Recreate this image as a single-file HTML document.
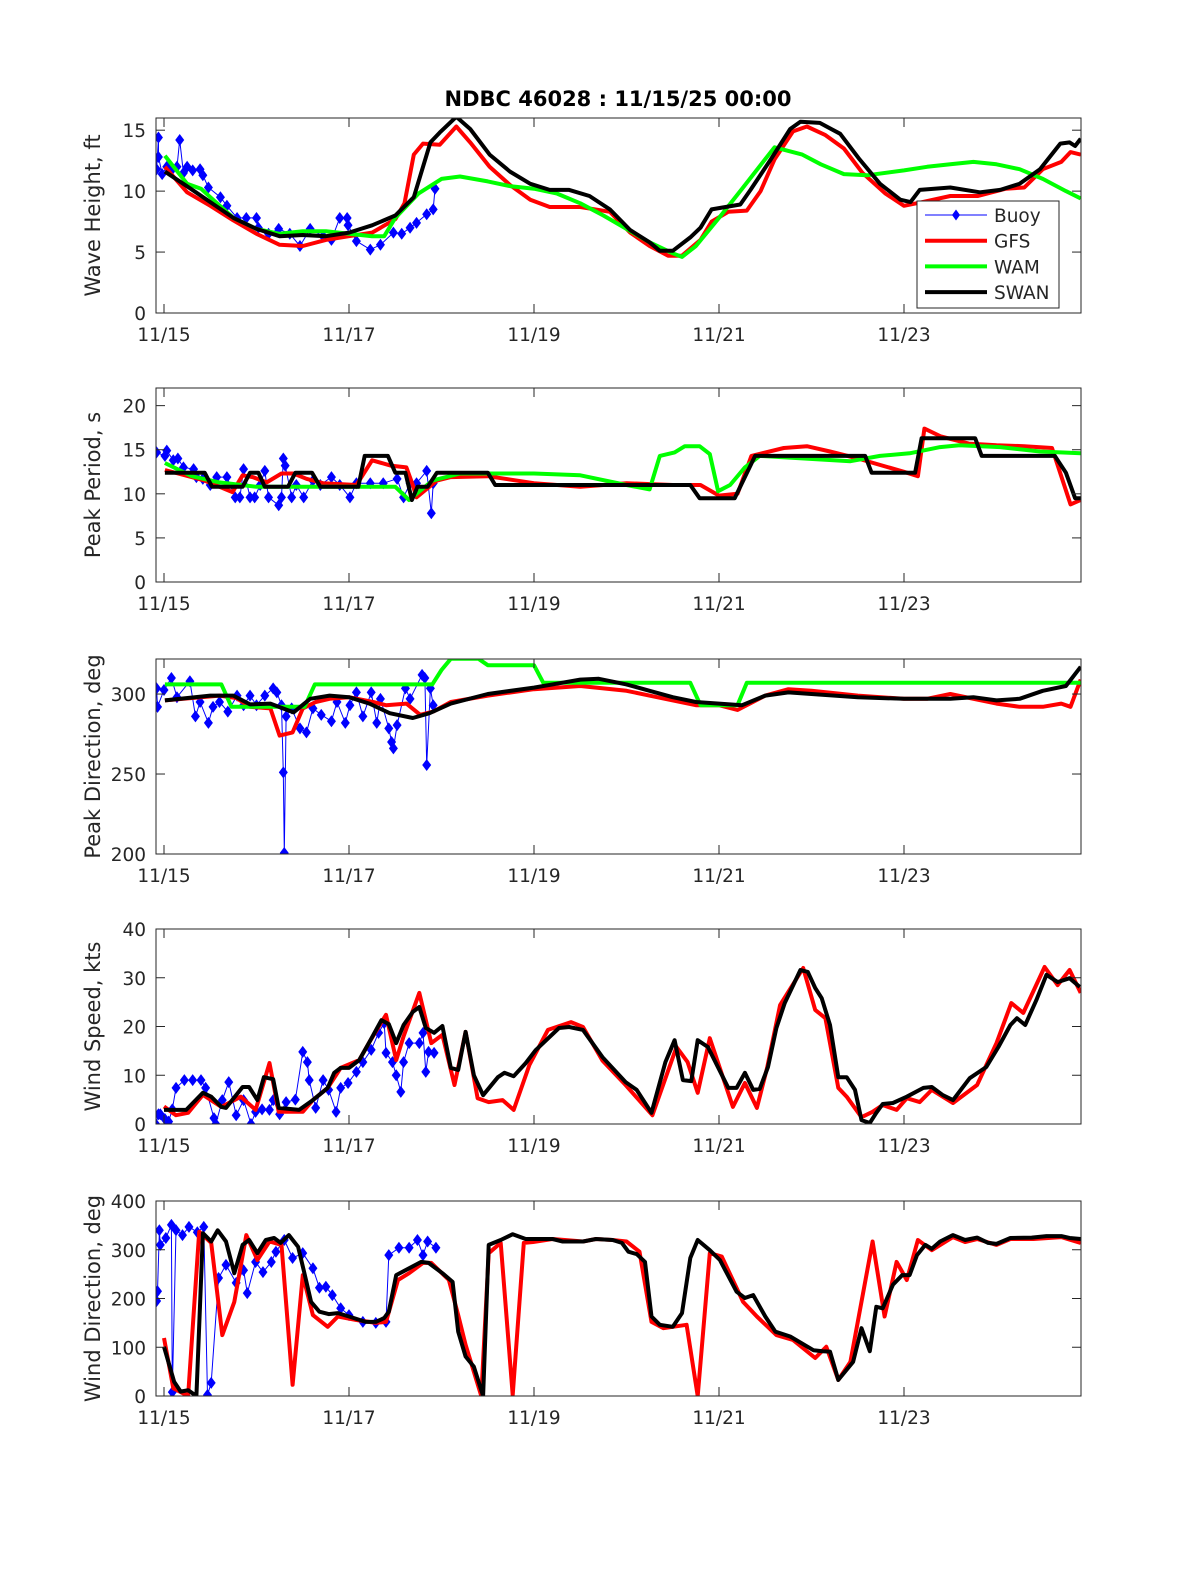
<!DOCTYPE html>
<html><head><meta charset="utf-8"><style>
body{margin:0;background:#fff;}
svg text{font-family:"DejaVu Sans","Liberation Sans",sans-serif;fill:#262626;}
</style></head><body>
<svg id="fig" width="1200" height="1575" viewBox="0 0 1200 1575" xmlns="http://www.w3.org/2000/svg">
<rect width="1200" height="1575" fill="#fff"/>
<text x="618" y="106" text-anchor="middle" font-size="21" font-weight="bold" style="fill:#000">NDBC 46028 : 11/15/25 00:00</text>
</svg>
<script>
// ---- data (time in days since 11/15 00:00) ----
const xTickLabels = ["11/15","11/17","11/19","11/21","11/23"];
const xTickDays = [0,2,4,6,8];

const hsBuoy = [[-0.08,11.8],[-0.06,14.4],[-0.06,12.8],[-0.02,11.4],[0.03,12],[0.09,11.8],[0.14,12],[0.17,14.2],[0.21,11.5],[0.25,12],[0.31,11.7],[0.39,11.8],[0.42,11.3],[0.48,10.3],[0.61,9.5],[0.68,8.8],[0.79,7.8],[0.89,7.8],[1.0,7.8],[1.02,7],[1.13,6.5],[1.24,6.9],[1.36,6.5],[1.47,5.5],[1.58,6.9],[1.72,6.3],[1.81,6],[1.9,7.8],[1.98,7.8],[1.99,7.2],[2.08,5.9],[2.23,5.2],[2.34,5.6],[2.48,6.6],[2.57,6.5],[2.66,7],[2.73,7.4],[2.84,8.1],[2.91,8.5],[2.93,10.2]];
const hsGfs = [[0.01,12],[0.25,9.9],[0.5,8.8],[0.75,7.6],[1,6.5],[1.25,5.6],[1.5,5.5],[1.75,6],[2,6.3],[2.25,6.6],[2.5,7.7],[2.6,9],[2.7,13],[2.8,13.9],[2.98,13.8],[3.16,15.3],[3.31,14],[3.52,12],[3.74,10.5],[3.96,9.3],[4.17,8.7],[4.5,8.7],[4.82,8.3],[5.04,6.6],[5.25,5.5],[5.45,4.7],[5.6,4.7],[5.8,6],[5.92,7.5],[6.1,8.3],[6.3,8.4],[6.45,10],[6.6,12.6],[6.8,14.9],[6.95,15.3],[7.15,14.6],[7.35,13.5],[7.55,11.5],[7.8,9.8],[8,8.8],[8.2,9.1],[8.5,9.6],[8.8,9.6],[9.1,10.2],[9.3,10.3],[9.5,11.8],[9.7,12.4],[9.8,13.2],[9.91,13]];
const hsWam = [[0.01,12.9],[0.25,10.6],[0.4,10.2],[0.5,9.5],[0.75,7.8],[1,6.9],[1.25,6.5],[1.5,6.7],[1.75,6.7],[2,6.5],[2.25,6.3],[2.38,6.3],[2.5,7.8],[2.75,9.8],[3,11],[3.2,11.2],[3.5,10.8],[3.75,10.4],[4,10.2],[4.25,9.8],[4.5,9],[4.75,8],[5,6.9],[5.25,5.8],[5.5,4.9],[5.6,4.6],[5.75,5.5],[6,7.8],[6.25,10.2],[6.6,13.6],[6.9,13],[7.1,12.2],[7.35,11.4],[7.6,11.3],[8,11.7],[8.25,12],[8.5,12.2],[8.75,12.4],[9,12.2],[9.25,11.8],[9.5,11],[9.75,10],[9.91,9.4]];
const hsSwan = [[0.01,11.6],[0.25,10.4],[0.5,9.1],[0.75,7.8],[1,6.9],[1.25,6.3],[1.5,6.4],[1.75,6.3],[2,6.6],[2.25,7.2],[2.5,8],[2.7,9.5],[2.88,14],[2.98,14.8],[3.16,16.1],[3.31,15.1],[3.52,13],[3.74,11.6],[3.96,10.6],[4.17,10.1],[4.38,10.1],[4.6,9.6],[4.82,8.5],[5.04,6.8],[5.25,5.8],[5.36,5.1],[5.5,5.1],[5.69,6.2],[5.8,7],[5.92,8.5],[6.23,8.9],[6.34,10.1],[6.56,12.6],[6.77,15.1],[6.88,15.7],[7.09,15.6],[7.31,14.7],[7.52,12.6],[7.74,10.6],[7.96,9.3],[8.07,9.1],[8.17,10.1],[8.5,10.3],[8.82,9.9],[9.04,10.1],[9.25,10.6],[9.47,11.8],[9.69,13.9],[9.79,14],[9.85,13.7],[9.91,14.3]];

const tpBuoy = [[-0.08,14.7],[0.01,14.3],[0.03,14.9],[0.1,13.8],[0.15,14],[0.21,13],[0.32,12.8],[0.35,11.9],[0.42,11.7],[0.5,11],[0.57,11.9],[0.68,11.9],[0.77,9.6],[0.82,9.6],[0.86,12.8],[0.93,9.6],[0.98,9.6],[1.04,11],[1.09,12.6],[1.13,9.6],[1.24,8.7],[1.27,9.6],[1.29,14],[1.31,13.2],[1.38,9.6],[1.43,11],[1.51,9.6],[1.61,11.5],[1.69,11],[1.81,11.9],[1.9,11],[2.01,9.6],[2.08,11.2],[2.23,11.2],[2.37,11.2],[2.52,11.7],[2.59,9.6],[2.66,11.2],[2.73,11.2],[2.84,12.6],[2.89,7.8],[2.91,11.2]];
const tpGfs = [[0.01,12.7],[0.44,11.5],[0.74,10.2],[0.85,12.1],[0.96,11.9],[1.11,11.3],[1.27,12.3],[1.4,12.3],[1.54,11.7],[1.72,11.2],[2.08,11],[2.25,13.8],[2.45,13.2],[2.62,13],[2.69,11],[2.73,9.6],[2.95,11.5],[3.1,11.9],[3.5,12],[4,11.2],[4.5,10.8],[5,11.2],[5.5,11],[5.8,11],[6.0,9.8],[6.2,10],[6.35,14.3],[6.7,15.2],[6.95,15.4],[7.2,14.8],[7.5,14],[8.0,12.5],[8.15,12],[8.22,17.4],[8.4,16.5],[8.7,15.7],[9,15.5],[9.3,15.4],[9.6,15.2],[9.8,8.8],[9.91,9.3]];
const tpWam = [[0.01,13.5],[0.3,12],[0.6,11.3],[1.0,10.8],[1.5,10.8],[2.5,10.8],[2.65,9.3],[2.9,11.5],[3.2,12.3],[4,12.3],[4.5,12.1],[5.0,11],[5.25,10.5],[5.36,14.3],[5.52,14.7],[5.63,15.4],[5.79,15.4],[5.9,14.5],[5.99,10.3],[6.12,11],[6.28,13],[6.44,14.3],[7.42,13.7],[7.74,14.3],[8.06,14.6],[8.39,15.3],[8.6,15.5],[9.04,15.3],[9.47,14.8],[9.91,14.6]];
const tpSwan = [[0.01,12.4],[0.44,12.4],[0.52,10.8],[0.85,10.8],[0.93,12.4],[1.02,12.4],[1.09,10.8],[1.34,10.8],[1.42,12.4],[1.6,12.4],[1.69,10.8],[2.1,10.8],[2.17,14.3],[2.42,14.3],[2.5,12.4],[2.61,12.4],[2.68,9.3],[2.74,10.8],[2.85,10.8],[2.95,12.4],[3.5,12.4],[3.58,11],[5.69,11],[5.79,9.5],[6.17,9.5],[6.39,14.3],[7.58,14.3],[7.65,12.4],[8.12,12.4],[8.19,16.3],[8.77,16.3],[8.84,14.3],[9.63,14.3],[9.75,12.4],[9.85,9.5],[9.91,9.5]];

const dpBuoy = [[-0.08,303.5],[-0.07,292],[0,302.5],[0.08,310],[0.14,298],[0.28,308],[0.34,286],[0.39,295],[0.48,282],[0.53,292],[0.6,295],[0.69,289],[0.79,299],[0.86,293],[0.93,299],[1.0,293],[1.09,299],[1.18,303.5],[1.22,301],[1.27,293],[1.29,251],[1.3,200.6],[1.32,286],[1.38,291],[1.47,278.5],[1.54,276],[1.61,291],[1.7,287],[1.81,283],[1.87,295],[1.96,282],[2.01,293],[2.08,301],[2.15,286],[2.24,301],[2.3,282],[2.34,297],[2.43,278.5],[2.46,270],[2.48,266],[2.52,280.6],[2.61,303.5],[2.66,297],[2.79,312],[2.82,310],[2.84,255.6],[2.88,303.5],[2.91,293]];
const dpGfs = [[0.01,296],[0.6,299],[0.78,297.5],[0.93,292],[1.15,291],[1.25,274],[1.39,276],[1.5,291],[1.64,295],[1.79,297],[2.0,298],[2.26,295],[2.4,293],[2.62,294],[2.77,287],[2.91,289],[3.1,295],[3.5,299],[4,303],[4.5,305],[5,302],[5.5,296],[5.75,293],[6,293],[6.2,290],[6.5,299],[6.75,303],[7,302],[7.5,299],[8,297],[8.25,297],[8.5,300],[9,294],[9.25,292],[9.5,292],[9.7,294],[9.8,292],[9.91,309]];
const dpWam = [[0.01,306],[0.62,306],[0.73,292],[1.52,292],[1.63,306],[2.9,306],[3.0,315],[3.1,322],[3.4,322],[3.5,318],[4,318],[4.1,307],[5.69,307],[5.8,293],[6.2,293],[6.3,307],[9.91,307]];
const dpSwan = [[0.01,296],[0.5,299],[0.75,299],[0.93,293.5],[1.15,294],[1.4,288.5],[1.58,297],[1.79,299],[2.0,298],[2.22,294],[2.44,288],[2.69,285],[2.87,288],[3.1,294],[3.5,300],[4,304],[4.3,307],[4.5,309],[4.7,309.5],[5,306],[5.25,302],[5.5,298],[5.75,295],[6,294],[6.25,293],[6.5,299],[6.75,301],[7,300],[7.5,298],[8,297],[8.5,297],[8.75,298],[9,296],[9.25,297],[9.5,302],[9.75,305],[9.91,317]];

const wsBuoy = [[-0.09,0],[-0.06,2],[-0.04,2],[0.01,1],[0.05,0.5],[0.09,3],[0.13,7.4],[0.22,9],[0.31,9],[0.4,9],[0.45,7.4],[0.54,1.2],[0.56,0],[0.63,4.9],[0.7,8.6],[0.78,1.8],[0.86,4.9],[0.94,0],[0.99,2.5],[1.06,3],[1.14,2.9],[1.18,4.9],[1.25,2],[1.32,4.5],[1.42,5],[1.5,14.8],[1.55,12.7],[1.57,9],[1.64,3.3],[1.72,9],[1.78,7],[1.86,2.5],[1.91,7.4],[1.99,8.4],[2.08,10.7],[2.15,12.7],[2.24,15.2],[2.32,18.7],[2.38,20.7],[2.4,14.6],[2.47,12.7],[2.51,10],[2.56,6.6],[2.59,12.7],[2.65,16.6],[2.76,16.6],[2.8,18.7],[2.83,10.7],[2.86,14.8],[2.92,14.6]];
const wsGfs = [[0,3.6],[0.13,1.8],[0.26,2.3],[0.42,6],[0.62,3.5],[0.83,5.6],[0.99,2.9],[1.14,12.5],[1.24,2.5],[1.5,2.5],[1.61,4.9],[1.77,7.4],[1.91,11.5],[2.11,13.1],[2.22,16.8],[2.4,22.4],[2.51,13.1],[2.59,18],[2.76,26.9],[2.89,16.6],[3.01,18.3],[3.14,8],[3.26,18.9],[3.39,5.3],[3.51,4.5],[3.66,4.9],[3.78,2.9],[3.95,12.1],[4.15,19.3],[4.4,20.9],[4.53,19.9],[4.74,13],[4.99,8],[5.28,1.8],[5.54,15.8],[5.66,12.7],[5.77,6.4],[5.9,17.6],[6.15,3.5],[6.28,8.4],[6.41,3.3],[6.52,11.5],[6.66,24.4],[6.91,32],[7.04,23.4],[7.15,21.7],[7.29,7.4],[7.38,5.6],[7.54,1.4],[7.66,2.5],[7.77,3.9],[7.92,2.9],[8.03,5.3],[8.17,4.5],[8.3,7],[8.53,4.3],[8.79,8],[9.0,16.6],[9.16,24.8],[9.29,22.8],[9.52,32.2],[9.66,28.5],[9.79,31.6],[9.91,26.9]];
const wsSwan = [[0,2.9],[0.24,2.9],[0.42,6.4],[0.51,5.6],[0.62,3.5],[0.67,3.3],[0.85,7.6],[0.92,7.6],[1.01,4.9],[1.08,9.6],[1.18,9.2],[1.24,3.3],[1.46,2.9],[1.61,4.9],[1.77,7.4],[1.84,10.5],[1.91,11.5],[2.0,11.5],[2.11,13.1],[2.22,16.8],[2.35,21.3],[2.43,20.5],[2.51,16.6],[2.59,20.3],[2.69,23],[2.76,24],[2.83,19.7],[2.92,18.7],[3.01,20.1],[3.1,11.5],[3.18,11.1],[3.26,18.9],[3.35,10],[3.45,5.9],[3.61,9.6],[3.68,10.5],[3.78,9.8],[3.91,12.5],[4.02,15.2],[4.27,19.7],[4.38,19.9],[4.53,19.3],[4.74,13.7],[4.99,8.6],[5.11,7],[5.27,2.3],[5.42,12.7],[5.52,17.2],[5.61,9],[5.7,8.8],[5.77,17.2],[5.88,15.8],[6.1,7.4],[6.19,7.4],[6.28,10.5],[6.37,7],[6.44,7.2],[6.53,11.7],[6.62,19.7],[6.71,24.8],[6.88,31.6],[6.96,31.2],[7.04,27.9],[7.11,25.8],[7.2,20.3],[7.29,9.6],[7.38,9.6],[7.47,7],[7.54,0.8],[7.63,0.2],[7.7,2.3],[7.77,4.1],[7.88,4.3],[8.03,5.6],[8.21,7.4],[8.3,7.6],[8.42,5.9],[8.53,4.9],[8.71,9.4],[8.89,11.7],[9.02,15.8],[9.15,20.3],[9.22,21.7],[9.31,20.3],[9.43,25.4],[9.54,30.6],[9.66,29.1],[9.79,29.9],[9.9,28.1]];

const wdBuoy = [[-0.08,195],[-0.07,215],[-0.05,340],[-0.04,310],[0.02,324],[0.08,351],[0.09,8],[0.13,340],[0.2,330],[0.27,347],[0.36,336],[0.43,347],[0.47,2],[0.51,27],[0.59,242],[0.67,269],[0.78,232],[0.86,258],[0.9,211],[0.99,275],[1.07,254],[1.16,275],[1.21,296],[1.3,320],[1.39,283],[1.5,293],[1.61,262],[1.68,222],[1.75,224],[1.82,207],[1.91,180],[2.0,166],[2.15,152],[2.29,150],[2.4,152],[2.43,289],[2.54,304],[2.65,304],[2.74,320],[2.8,289],[2.85,317],[2.94,304]];
const wdGfs = [[0,119],[0.1,16],[0.26,0],[0.38,337],[0.51,314],[0.63,125],[0.76,193],[0.89,330],[1.01,279],[1.14,317],[1.27,310],[1.39,23],[1.5,248],[1.61,166],[1.77,142],[1.88,163],[2.08,156],[2.29,150],[2.4,152],[2.53,238],[2.65,252],[2.8,273],[2.89,273],[3.08,238],[3.18,166],[3.26,105],[3.43,0],[3.51,293],[3.64,314],[3.77,2],[3.89,314],[3.99,316],[4.2,322],[4.53,317],[4.67,322],[4.85,320],[5.0,317],[5.14,296],[5.27,152],[5.4,139],[5.65,146],[5.77,0],[5.9,293],[6.03,286],[6.26,193],[6.41,163],[6.62,125],[6.8,115],[7.04,78],[7.16,101],[7.29,33],[7.42,70],[7.66,317],[7.79,163],[7.92,275],[8.03,238],[8.15,320],[8.3,299],[8.53,326],[8.66,316],[8.79,322],[9.0,310],[9.15,322],[9.4,322],[9.7,326],[9.91,314]];
const wdSwan = [[0,101],[0.11,29],[0.18,9],[0.26,12],[0.35,0],[0.42,334],[0.51,317],[0.58,340],[0.67,317],[0.76,252],[0.85,310],[0.92,320],[1.01,293],[1.1,320],[1.19,324],[1.26,314],[1.35,330],[1.45,306],[1.51,258],[1.59,193],[1.68,173],[1.78,168],[1.88,170],[2.0,163],[2.18,152],[2.29,152],[2.38,160],[2.43,173],[2.51,248],[2.65,262],[2.78,275],[2.86,273],[3.01,252],[3.12,234],[3.18,132],[3.26,81],[3.35,60],[3.45,0],[3.51,310],[3.64,320],[3.77,332],[3.91,322],[4.2,322],[4.31,317],[4.53,317],[4.67,322],[4.85,320],[4.95,314],[5.02,296],[5.11,291],[5.2,275],[5.27,163],[5.36,146],[5.5,142],[5.6,170],[5.69,283],[5.77,320],[5.9,299],[6.01,279],[6.19,214],[6.28,201],[6.37,207],[6.5,163],[6.61,132],[6.77,122],[7.02,94],[7.12,92],[7.2,91],[7.29,33],[7.45,70],[7.54,139],[7.63,92],[7.7,183],[7.77,180],[7.88,228],[7.98,248],[8.06,248],[8.14,289],[8.23,310],[8.3,302],[8.39,317],[8.53,330],[8.66,320],[8.79,325],[8.91,314],[9.0,312],[9.15,324],[9.38,325],[9.54,328],[9.7,328],[9.79,324],[9.91,322]];

// ---- drawing ----
const NS = "http://www.w3.org/2000/svg";
const svg = document.getElementById('fig');
const X0 = 156, X1 = 1081, DMIN = -0.0865, DMAX = 9.9135;
function xs(d){ return X0 + (d - DMIN) / (DMAX - DMIN) * (X1 - X0); }
function mk(tag, attrs, parent){ const e = document.createElementNS(NS, tag); for (const k in attrs) e.setAttribute(k, attrs[k]); (parent||svg).appendChild(e); return e; }

const panels = [
  {key:'wave-height', top:118, bot:313, ymin:0, ymax:16, ticks:[0,5,10,15], title:'Wave Height, ft', series:[[hsBuoy,'buoy'],[hsGfs,'gfs'],[hsWam,'wam'],[hsSwan,'swan']]},
  {key:'peak-period', top:388, bot:582, ymin:0, ymax:22, ticks:[0,5,10,15,20], title:'Peak Period, s', series:[[tpBuoy,'buoy'],[tpGfs,'gfs'],[tpWam,'wam'],[tpSwan,'swan']]},
  {key:'peak-direction', top:659, bot:854, ymin:200, ymax:321.9, ticks:[200,250,300], title:'Peak Direction, deg', series:[[dpBuoy,'buoy'],[dpGfs,'gfs'],[dpWam,'wam'],[dpSwan,'swan']]},
  {key:'wind-speed', top:929, bot:1124, ymin:0, ymax:40, ticks:[0,10,20,30,40], title:'Wind Speed, kts', series:[[wsBuoy,'buoy'],[wsGfs,'gfs'],[wsSwan,'swan']]},
  {key:'wind-direction', top:1201, bot:1396, ymin:0, ymax:400, ticks:[0,100,200,300,400], title:'Wind Direction, deg', series:[[wdBuoy,'buoy'],[wdGfs,'gfs'],[wdSwan,'swan']]}
];
const styles = {buoy:{c:'#0000ff',w:1}, gfs:{c:'#ff0000',w:4}, wam:{c:'#00ff00',w:4}, swan:{c:'#000000',w:4}};

panels.forEach((p, pi) => {
  const ys = v => p.bot - (v - p.ymin) / (p.ymax - p.ymin) * (p.bot - p.top);
  const g = mk('g', {});
  
  
  const cid = 'clip' + pi;
  const cp = mk('clipPath', {id: cid}, g);
  mk('rect', {x: X0, y: p.top, width: X1 - X0, height: p.bot - p.top}, cp);
  const data = mk('g', {'clip-path': 'url(#' + cid + ')'}, g);
  p.series.forEach(([arr, name]) => {
    const st = styles[name];
    const pts = arr.map(q => xs(q[0]).toFixed(1) + ',' + ys(q[1]).toFixed(1)).join(' ');
    const pl = mk('polyline', {points: pts, fill: 'none', stroke: st.c, 'stroke-width': st.w, 'stroke-linejoin': 'round'}, data);
    
    
    if (name === 'buoy') {
      arr.forEach(q => {
        const cx = xs(q[0]), cy = ys(q[1]);
        const m = mk('polygon', {points: `${cx},${cy-6} ${cx+4.5},${cy} ${cx},${cy+6} ${cx-4.5},${cy}`, fill: '#0000ff'}, data);
        
        
      });
    }
  });
  const box = mk('rect', {x: X0, y: p.top, width: X1 - X0, height: p.bot - p.top, fill: 'none', stroke: '#262626', 'stroke-width': 1}, g);
  
  
  xTickDays.forEach((d, i) => {
    const x = xs(d);
    mk('line', {x1: x, x2: x, y1: p.bot, y2: p.bot - 9, stroke: '#262626'}, g);
    mk('line', {x1: x, x2: x, y1: p.top, y2: p.top + 9, stroke: '#262626'}, g);
    const t = mk('text', {x: x, y: p.bot + 28, 'text-anchor': 'middle', 'font-size': 18.5}, g);
    t.textContent = xTickLabels[i];
    
    
  });
  p.ticks.forEach(v => {
    const y = ys(v);
    mk('line', {x1: X0, x2: X0 + 9, y1: y, y2: y, stroke: '#262626'}, g);
    mk('line', {x1: X1, x2: X1 - 9, y1: y, y2: y, stroke: '#262626'}, g);
    const t = mk('text', {x: 146, y: y + 7, 'text-anchor': 'end', 'font-size': 18.5}, g);
    t.textContent = String(v);
    
    
  });
  const cy = (p.top + p.bot) / 2;
  const yt = mk('text', {x: 0, y: 0, transform: `translate(100,${cy}) rotate(-90)`, 'text-anchor': 'middle', 'font-size': 21}, g);
  yt.textContent = p.title;
  
  
});

// legend
const lg = mk('g', {});


mk('rect', {x: 917, y: 201, width: 142, height: 107, fill: '#fff', stroke: '#262626', 'stroke-width': 1}, lg);
const legendNames = ['Buoy','GFS','WAM','SWAN'];
const legendKeys = ['buoy','gfs','wam','swan'];
legendNames.forEach((n, i) => {
  const y = 215 + i * 25.7;
  const st = styles[legendKeys[i]];
  const e = mk('g', {}, lg);
  
  
  mk('line', {x1: 925, x2: 987, y1: y, y2: y, stroke: st.c, 'stroke-width': st.w}, e);
  if (i === 0) mk('polygon', {points: `956,${y-5.5} 960,${y} 956,${y+5.5} 952,${y}`, fill: '#0000ff'}, e);
  const t = mk('text', {x: 994, y: y + 7, 'font-size': 18.5}, e);
  t.textContent = n;
});
</script>
</body></html>
